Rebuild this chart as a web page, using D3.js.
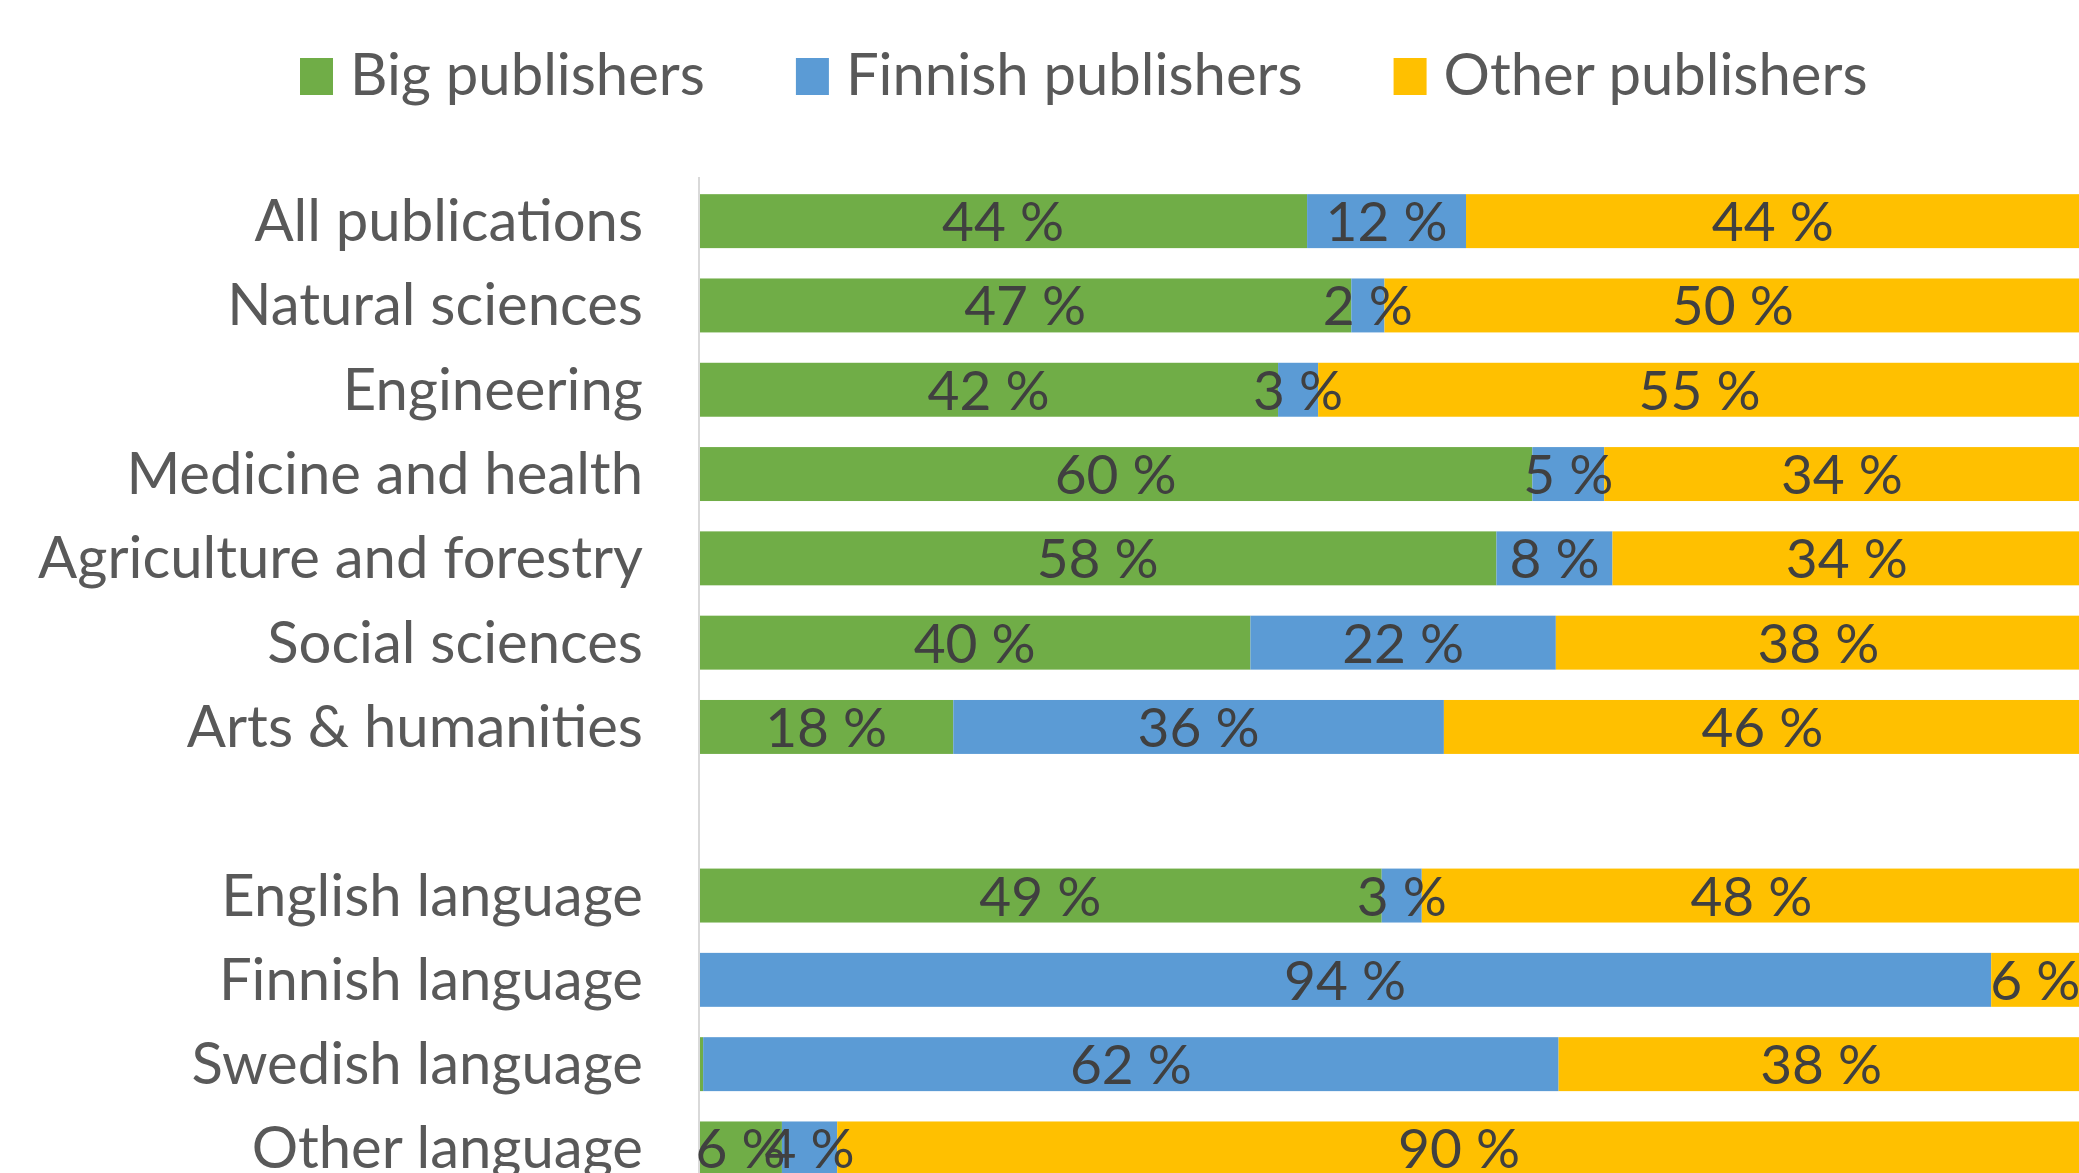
<!DOCTYPE html>
<html>
<head>
    <meta charset="utf-8">
    <title>Publishers by field and language</title>
    <script src="https://cdn.jsdelivr.net/npm/d3@7/dist/d3.min.js"></script>
    <style>
      body { margin: 0; background: #fff; }
      text { font-family: Lato, "Open Sans", sans-serif; }
    </style>
</head>
<body>
<script type="text/javascript">
    // data (percent)
    var categories = ["All publications", "Natural sciences", "Engineering", "Medicine and health",
                      "Agriculture and forestry", "Social sciences", "Arts & humanities", "",
                      "English language", "Finnish language", "Swedish language", "Other language"];
    var series = ["Big publishers", "Finnish publishers", "Other publishers"];
    var bigPub     = [44.0, 47.2, 41.9, 60.3, 57.7, 39.9, 18.4, null, 49.4, 0,    0.3,  6.0];
    var finnishPub = [11.5, 2.4,  2.9,  5.2,  8.4,  22.1, 35.5, null, 2.9,  93.5, 61.9, 4.0];
    var otherPub   = [44.4, 50.4, 55.2, 34.4, 33.9, 38.0, 46.1, null, 47.7, 6.4,  38.0, 90.0];
    var colors = ["#70ad47", "#5b9bd5", "#ffc000"];

    var width = 2079, height = 1173,
        axisX = 699,
        plotW = 1382,
        svg;

    function createSvg() {
      svg = d3.select("body").append("svg")
        .attr("width", width)
        .attr("height", height);
      svg.append("rect").attr("width", width).attr("height", height).attr("fill", "#fff");
    }

    function renderLegend() {
      var g = svg.append("g").attr("class", "legend");
      var x = 300;
      series.forEach(function(name, i) {
        g.append("rect")
          .attr("x", x).attr("y", 58)
          .attr("width", 33).attr("height", 37)
          .attr("fill", colors[i]);
        var t = g.append("text")
          .attr("x", x + 50).attr("y", 95)
          .attr("fill", "#595959")
          .style("font-size", "58px")
          .text(name);
        x = x + 50 + t.node().getComputedTextLength() + 91;
      });
    }

    function renderBars() {
      var x = d3.scaleLinear().domain([0, 100]).range([axisX, axisX + plotW]);
      var y = d3.scaleBand().domain(categories).range([179, 179 + 12 * 84.3])
        .paddingInner(0.36).paddingOuter(0.18);

      var rows = categories.map(function(c, i) {
        return { cat: c, vals: [bigPub[i], finnishPub[i], otherPub[i]] };
      }).filter(function(r) { return r.cat !== ""; });

      var segs = [];
      rows.forEach(function(r) {
        var acc = 0;
        r.vals.forEach(function(v, k) {
          segs.push({ cat: r.cat, k: k, v: v, x0: acc, x1: acc + v });
          acc += v;
        });
      });

      svg.append("g").selectAll("rect")
        .data(segs.filter(function(d) { return d.v > 0; }))
        .enter().append("rect")
        .attr("x", function(d) { return x(d.x0); })
        .attr("y", function(d) { return y(d.cat); })
        .attr("width", function(d) { return x(d.x1) - x(d.x0); })
        .attr("height", y.bandwidth())
        .attr("fill", function(d) { return colors[d.k]; });

      // axis line
      svg.append("line")
        .attr("x1", axisX).attr("x2", axisX)
        .attr("y1", 177).attr("y2", height)
        .attr("stroke", "#d9d9d9").attr("stroke-width", 2);

      // category labels
      svg.append("g").selectAll("text")
        .data(rows)
        .enter().append("text")
        .attr("x", 643)
        .attr("y", function(d) { return y(d.cat) + y.bandwidth() / 2 + 20; })
        .attr("text-anchor", "end")
        .attr("fill", "#595959")
        .style("font-size", "58px")
        .text(function(d) { return d.cat; });

      // value labels
      svg.append("g").selectAll("text")
        .data(segs.filter(function(d) { return d.v >= 1; }))
        .enter().append("text")
        .attr("x", function(d) { return x((d.x0 + d.x1) / 2); })
        .attr("y", function(d) { return y(d.cat) + y.bandwidth() / 2 + 20; })
        .attr("text-anchor", "middle")
        .attr("fill", "#404040")
        .style("font-size", "55px")
        .text(function(d) { return Math.round(d.v) + " %"; });
    }

    createSvg();
    renderLegend();
    renderBars();
</script>
</body>
</html>
